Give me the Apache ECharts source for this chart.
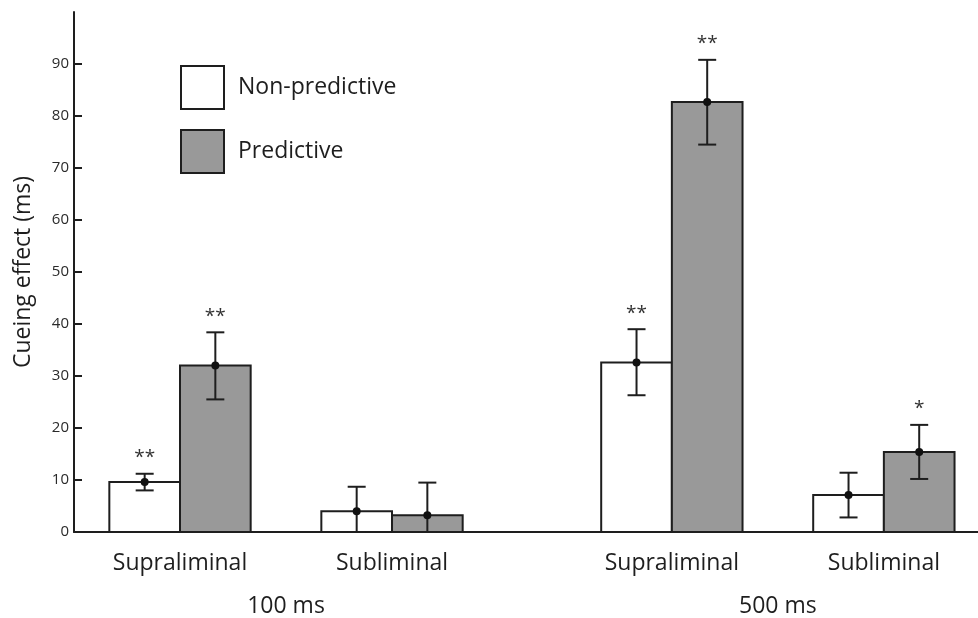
<!DOCTYPE html>
<html>
<head>
<meta charset="utf-8">
<script src="https://cdn.jsdelivr.net/npm/echarts@6/dist/echarts.min.js"></script>
<style>html,body{margin:0;padding:0;background:#fff}#c{width:978px;height:618px}</style>
</head>
<body>
<div id="c"></div>
<script>
// ---- data ----
const categories = ['Supraliminal', 'Subliminal', 'Supraliminal', 'Subliminal'];
const positions = [1, 2, 3.32, 4.32];
const groupLabels = ['100 ms', '500 ms'];
const groupPositions = [1.5, 3.82];
const seriesNames = ['Non-predictive', 'Predictive'];
const nonPred = [9.6, 4.0, 32.6, 7.1];
const nonPredLow = [8.0, -0.6, 26.3, 2.8];
const nonPredHigh = [11.2, 8.7, 39.0, 11.4];
const nonPredSig = ['**', '', '**', ''];
const pred = [32.0, 3.2, 82.7, 15.4];
const predLow = [25.5, -3.1, 74.5, 10.2];
const predHigh = [38.4, 9.5, 90.8, 20.6];
const predSig = ['**', '', '**', '*'];
const yTicks = [0, 10, 20, 30, 40, 50, 60, 70, 80, 90];

const FONT = '"Open Sans", "DejaVu Sans", sans-serif';
const BW = 1 / 3;
const INK = '#1e1e1e';

function makeRender(side, fill, sig) {
  return function (params, api) {
    const i = params.dataIndex;
    const pos = api.value(0), v = api.value(1), lo = api.value(2), hi = api.value(3);
    const x0 = side < 0 ? pos - BW : pos;
    const x1 = x0 + BW;
    const p0 = api.coord([x0, v]);
    const p1 = api.coord([x1, 0]);
    const xc = (p0[0] + p1[0]) / 2;
    const zeroY = p1[1];
    const topY = api.coord([x0, hi])[1];
    const botY = Math.min(api.coord([x0, lo])[1], zeroY);
    const cap = 9;
    const ls = { stroke: INK, lineWidth: 2 };
    const children = [
      { type: 'rect', shape: { x: p0[0], y: p0[1], width: p1[0] - p0[0], height: zeroY - p0[1] },
        style: { fill: fill, stroke: INK, lineWidth: 2 } },
      { type: 'line', shape: { x1: xc, y1: topY, x2: xc, y2: botY }, style: ls },
      { type: 'line', shape: { x1: xc - cap, y1: topY, x2: xc + cap, y2: topY }, style: ls },
      { type: 'line', shape: { x1: xc - cap, y1: botY, x2: xc + cap, y2: botY }, style: ls },
      { type: 'circle', shape: { cx: xc, cy: p0[1], r: 4 }, style: { fill: '#111' } }
    ];
    if (sig[i]) {
      children.push({ type: 'text', x: xc, y: topY - 16,
        style: { text: sig[i], font: '19px ' + FONT, fill: '#333', align: 'center', verticalAlign: 'middle' } });
    }
    return { type: 'group', children: children };
  };
}

function rows(vals, lo, hi) {
  return vals.map((v, i) => [positions[i], v, lo[i], hi[i]]);
}

function labelFor(list, names) {
  return function (val) {
    for (let i = 0; i < list.length; i++) if (Math.abs(list[i] - val) < 1e-6) return names[i];
    return '';
  };
}

const chart = echarts.init(document.getElementById('c'), null, { renderer: 'canvas' });
chart.setOption({
  animation: false,
  backgroundColor: '#fff',
  grid: { left: 74, right: 0, top: 12, bottom: 86, containLabel: false },
  legend: {
    orient: 'vertical', left: 180, top: 65, padding: 0,
    itemWidth: 43, itemHeight: 43, itemGap: 19, selectedMode: false,
    textStyle: { fontSize: 23, color: INK, fontFamily: FONT, padding: [2, 0, 0, 9] },
    data: [
      { name: seriesNames[0], icon: 'rect', itemStyle: { color: '#fff', borderColor: INK, borderWidth: 2 } },
      { name: seriesNames[1], icon: 'rect', itemStyle: { color: '#999999', borderColor: INK, borderWidth: 2 } }
    ]
  },
  xAxis: [
    {
      type: 'value', min: 0.5, max: 4.764,
      axisLine: { show: true, onZero: false, lineStyle: { color: INK, width: 2 } },
      axisTick: { show: false }, splitLine: { show: false },
      axisLabel: { customValues: positions, formatter: labelFor(positions, categories),
        fontSize: 23, color: INK, fontFamily: FONT, margin: 20 }
    },
    {
      type: 'value', min: 0.5, max: 4.764, position: 'bottom',
      axisLine: { show: false }, axisTick: { show: false }, splitLine: { show: false },
      axisLabel: { customValues: groupPositions, formatter: labelFor(groupPositions, groupLabels),
        fontSize: 23, color: INK, fontFamily: FONT, margin: 63 }
    }
  ],
  yAxis: {
    type: 'value', min: 0, max: 100, interval: 10,
    name: 'Cueing effect (ms)', nameLocation: 'middle', nameGap: 39, nameRotate: 90,
    nameTextStyle: { fontSize: 23, color: INK, fontFamily: FONT },
    axisLine: { show: true, lineStyle: { color: INK, width: 2 } },
    axisTick: { show: true, inside: true, length: 8, customValues: yTicks, lineStyle: { color: INK, width: 2 } },
    axisLabel: { customValues: yTicks, fontSize: 15, color: '#2a2a2a', fontFamily: FONT, margin: 5 },
    splitLine: { show: false }
  },
  series: [
    { name: seriesNames[0], type: 'custom', xAxisIndex: 0, itemStyle: { color: '#fff', borderColor: INK, borderWidth: 2 },
      renderItem: makeRender(-1, '#ffffff', nonPredSig), encode: { x: 0, y: 1 },
      data: rows(nonPred, nonPredLow, nonPredHigh) },
    { name: seriesNames[1], type: 'custom', xAxisIndex: 0, itemStyle: { color: '#999999', borderColor: INK, borderWidth: 2 },
      renderItem: makeRender(1, '#999999', predSig), encode: { x: 0, y: 1 },
      data: rows(pred, predLow, predHigh) }
  ]
});
</script>
</body>
</html>
